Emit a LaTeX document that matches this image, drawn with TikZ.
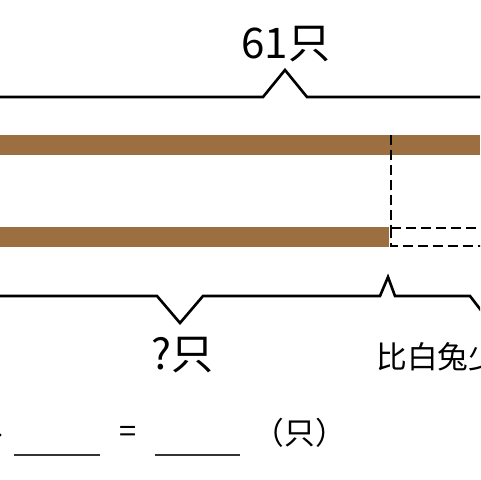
\documentclass[tikz,border=0pt]{standalone}
\usepackage{fontspec}
\setmainfont{Noto Sans CJK SC}
\usepackage{tikz}
\usetikzlibrary{positioning}
\definecolor{barbrown}{RGB}{156,111,65}
\tikzset{
  bar/.style={fill=barbrown, draw=none},
  braceline/.style={line width=1.5pt, line join=miter, black},
  dashline/.style={line width=1.6pt, dash pattern=on 5.7pt off 2.8pt, black},
  bigtext/.style={inner sep=0pt, font=\fontsize{24}{24}\selectfont},
  smalltext/.style={inner sep=0pt, font=\fontsize{17.5}{17.5}\selectfont},
  blank/.style={line width=0.9pt, black!80},
}

\begin{document}
\begin{tikzpicture}[x=0.02cm, y=-0.02cm]
\useasboundingbox (0,0) rectangle (480,480);
\clip (0,0) rectangle (480,480);
\fill[white] (0,0) rectangle (480,480);

% brace over the top bar
\coordinate (ttip) at (285,70);
\draw[braceline] (-5,97) -- (263,97) -- (ttip) -- (307,97) -- (485,97);
\node[bigtext] (lbltotal) at (286,44) {61只};

% the two bars
\fill[bar] (0,135) rectangle (480,155);
\fill[bar] (0,227) rectangle (389,247);
\coordinate (cuttop) at (391,135);
\coordinate (cutbot) at (391,228);
\draw[dashline] (cuttop) -- (cutbot);
\draw[dashline] (cutbot) -- (391,246) -- (485,246);
\draw[dashline] (cutbot) -- (485,228);

% braces under the bottom bar
\coordinate (wtip) at (180,323);
\coordinate (ltip) at (388,277);
\draw[braceline] (-5,296) -- (157,296) -- (wtip) -- (203,296) -- (380,296)
  -- (ltip) -- (395,296) -- (470,296) -- (490,322);
\node[bigtext] (lblwhite) at (183,355) {?只};
\node[smalltext, anchor=west] (lblless) at (376,357) {比白兔少};

% equation line
\fill (0,435) circle (1.6);
\draw[blank] (14,455) -- (100,455);
\node[smalltext] (lbleq) at (128,434) {=};
\draw[blank] (155,455) -- (240,455);
\node[smalltext] (lblunit) at (300,433) {（只）};
\end{tikzpicture}
\end{document}
